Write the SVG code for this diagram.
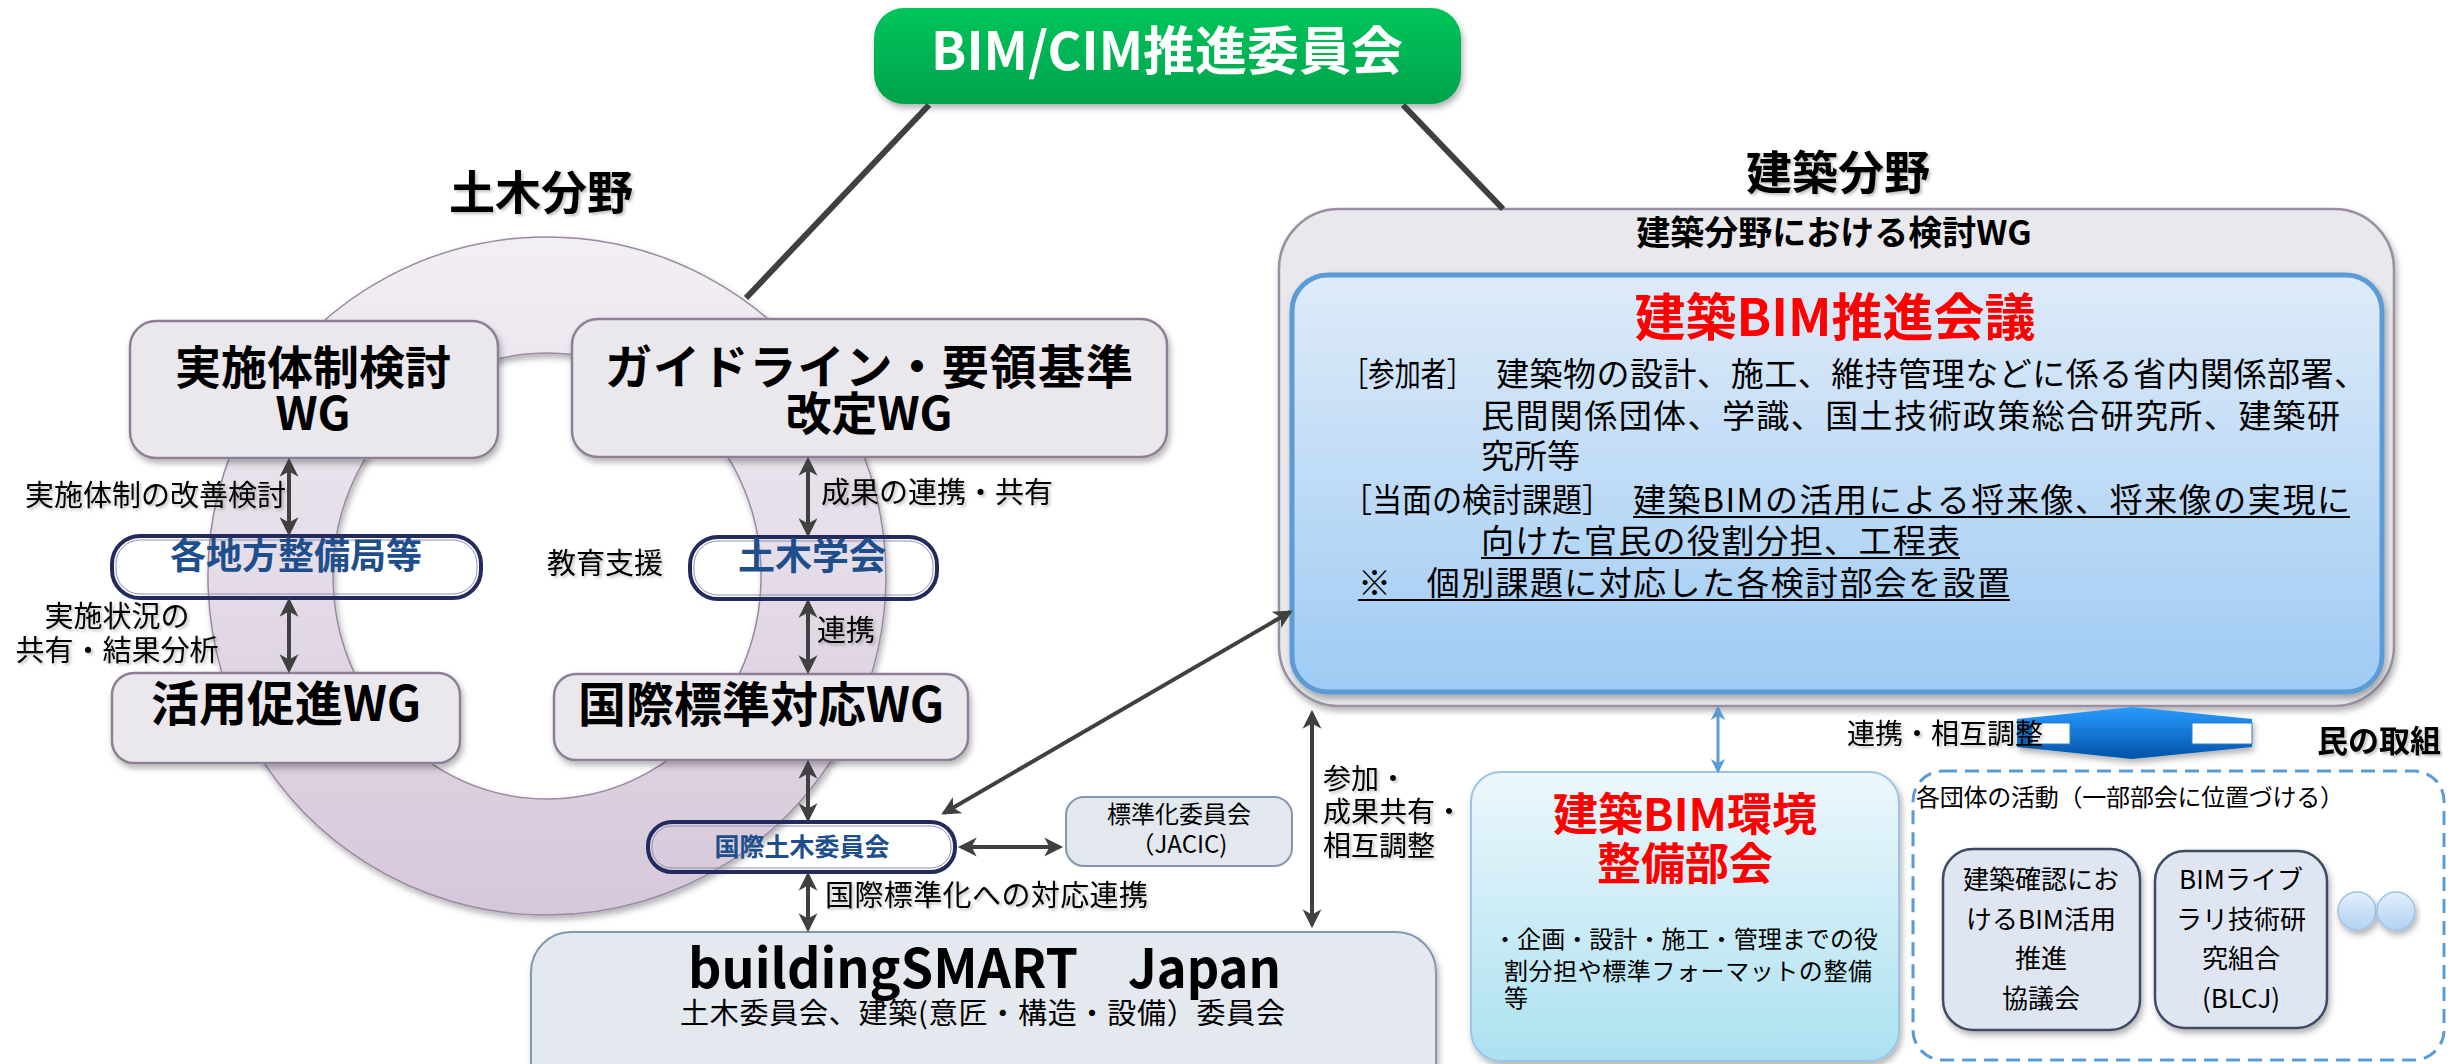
<svg xmlns="http://www.w3.org/2000/svg" width="2458" height="1064" viewBox="0 0 2458 1064">
<style>
text{font-family:"Noto Sans CJK JP","Noto Sans",sans-serif;fill:#000}
.b{font-weight:bold}
.wg{fill:#EAE8EC;stroke:#8E7F96;stroke-width:2.5}
.nv{fill:none;stroke:#232B5E;stroke-width:4}
.nvt{fill:#1F4E8C;font-weight:bold}
.lbl{font-size:29px}
.ar{stroke:#404040;stroke-width:4;fill:none;marker-start:url(#ah);marker-end:url(#ah)}
.org{fill:#DFE6F1;stroke:#3F4A66;stroke-width:2.5}
.red{fill:#FF0000;font-weight:bold}
</style>
<defs>
<marker id="ah" viewBox="0 0 20 20" refX="16" refY="10" markerWidth="21" markerHeight="21" markerUnits="userSpaceOnUse" orient="auto-start-reverse"><path d="M1,1 L19,10 L1,19 L6,10 Z" fill="#404040"/></marker>
<marker id="ahb" viewBox="0 0 20 20" refX="16" refY="10" markerWidth="16" markerHeight="16" markerUnits="userSpaceOnUse" orient="auto-start-reverse"><path d="M1,1 L19,10 L1,19 L6,10 Z" fill="#5B9BD5"/></marker>
<linearGradient id="gGreen" x1="0" y1="0" x2="0" y2="1"><stop offset="0" stop-color="#00C55A"/><stop offset="1" stop-color="#00A24C"/></linearGradient>
<linearGradient id="gRing" x1="0" y1="0" x2="0" y2="1"><stop offset="0" stop-color="#F2EFF4"/><stop offset="1" stop-color="#D6C8DA"/></linearGradient>
<linearGradient id="gBlue" x1="0" y1="0" x2="0" y2="1"><stop offset="0" stop-color="#DEEBF8"/><stop offset="1" stop-color="#9FCBF4"/></linearGradient>
<linearGradient id="gCyan" x1="0" y1="0" x2="0" y2="1"><stop offset="0" stop-color="#EDF7FC"/><stop offset="1" stop-color="#ABE1F0"/></linearGradient>
<linearGradient id="gArrow" x1="0" y1="0" x2="0" y2="1"><stop offset="0" stop-color="#2A9BFF"/><stop offset="1" stop-color="#0052A8"/></linearGradient>
<linearGradient id="gDot" x1="0" y1="0" x2="0" y2="1"><stop offset="0" stop-color="#E3EFFB"/><stop offset="1" stop-color="#B3D2F2"/></linearGradient>
<filter id="sh" x="-10%" y="-10%" width="125%" height="135%"><feDropShadow dx="2" dy="4" stdDeviation="3" flood-color="#000" flood-opacity="0.3"/></filter>
<filter id="ts" x="-5%" y="-20%" width="115%" height="160%"><feDropShadow dx="2" dy="2" stdDeviation="1.5" flood-color="#000" flood-opacity="0.25"/></filter>
</defs>
<rect width="2458" height="1064" fill="#FFFFFF"/>

<g id="ring">
<path d="M547,237 A339,339 0 1 1 546.9,237 Z M547,353 A214,223 0 1 0 547.1,353 Z" fill="url(#gRing)" fill-rule="evenodd" stroke="#9A8AA3" stroke-width="1.5" filter="url(#sh)"/>
</g>

<g id="field-civil-title"><text x="541" y="209" text-anchor="middle" class="b" font-size="46" filter="url(#ts)">土木分野</text></g>
<g id="field-arch-title"><text x="1838" y="189" text-anchor="middle" class="b" font-size="46" filter="url(#ts)">建築分野</text></g>

<g id="bimcim">
<rect x="874" y="8" width="587" height="96" rx="30" fill="url(#gGreen)" filter="url(#sh)"/>
<text x="1167" y="70" text-anchor="middle" class="b" font-size="52" fill="#FFFFFF" style="fill:#FFFFFF">BIM/CIM推進委員会</text>
</g>

<g id="wg-jisshi">
<rect class="wg" x="130" y="321" width="368" height="137" rx="26" filter="url(#sh)"/>
<text x="313" y="384" text-anchor="middle" class="b" font-size="46">実施体制検討</text>
<text x="313" y="430" text-anchor="middle" class="b" font-size="46">WG</text>
</g>

<g id="wg-guideline">
<rect class="wg" x="572" y="319" width="595" height="138" rx="26" filter="url(#sh)"/>
<text x="869" y="384" text-anchor="middle" class="b" font-size="47" textLength="528">ガイドライン・要領基準</text>
<text x="869" y="430" text-anchor="middle" class="b" font-size="46">改定WG</text>
</g>

<g id="chiho">
<rect class="nv" x="112" y="536" width="369" height="62" rx="28"/>
<rect x="116" y="540" width="361" height="54" rx="24" fill="none" stroke="#8C91B5" stroke-width="1"/>
<text x="296" y="569" text-anchor="middle" class="nvt" font-size="36" style="fill:#1F4E8C">各地方整備局等</text>
</g>

<g id="doboku-gakkai">
<rect class="nv" x="690" y="537" width="247" height="62" rx="28"/>
<rect x="694" y="541" width="239" height="54" rx="24" fill="none" stroke="#8C91B5" stroke-width="1"/>
<text x="812" y="570" text-anchor="middle" class="nvt" font-size="37" style="fill:#1F4E8C">土木学会</text>
</g>

<g id="wg-katsuyo">
<rect class="wg" x="112" y="673" width="348" height="90" rx="22" filter="url(#sh)"/>
<text x="286" y="721" text-anchor="middle" class="b" font-size="48">活用促進WG</text>
</g>

<g id="wg-kokusai">
<rect class="wg" x="554" y="674" width="414" height="86" rx="22" filter="url(#sh)"/>
<text x="761" y="722" text-anchor="middle" class="b" font-size="48">国際標準対応WG</text>
</g>

<g id="kokusai-doboku">
<rect class="nv" x="648" y="822" width="307" height="50" rx="24"/>
<rect x="652" y="826" width="299" height="42" rx="20" fill="none" stroke="#8C91B5" stroke-width="1"/>
<text x="802" y="856" text-anchor="middle" class="nvt" font-size="25" style="fill:#1F4E8C">国際土木委員会</text>
</g>

<g id="jacic">
<rect x="1066" y="797" width="226" height="69" rx="18" fill="#E3E7EE" stroke="#8497B0" stroke-width="2"/>
<text x="1179" y="823" text-anchor="middle" font-size="24">標準化委員会</text>
<text x="1179" y="853" text-anchor="middle" font-size="24">（JACIC)</text>
</g>

<g id="buildingsmart">
<rect x="531" y="932" width="905" height="170" rx="40" fill="#E4E8EF" stroke="#8497B0" stroke-width="2" filter="url(#sh)"/>
<text x="688" y="988" class="b" font-size="54" textLength="390" lengthAdjust="spacingAndGlyphs">buildingSMART</text>
<text x="1128" y="988" class="b" font-size="54" textLength="153" lengthAdjust="spacingAndGlyphs">Japan</text>
<text x="680" y="1024" font-size="29" textLength="605">土木委員会、建築(意匠・構造・設備）委員会</text>
</g>

<g id="arch-wg">
<rect x="1279" y="209" width="1115" height="497" rx="60" fill="#E9E8EC" stroke="#9B8FA3" stroke-width="2.5" filter="url(#sh)"/>
<text x="1834" y="245" text-anchor="middle" class="b" font-size="34">建築分野における検討WG</text>
</g>

<g id="arch-bim-kaigi">
<rect x="1292" y="275" width="1090" height="417" rx="36" fill="url(#gBlue)" stroke="#5B9BD5" stroke-width="5" filter="url(#sh)"/>
<text x="1835" y="336" text-anchor="middle" class="red" font-size="51" style="fill:#FF0000">建築BIM推進会議</text>
<g font-size="33">
<text x="1342" y="386" textLength="131" lengthAdjust="spacingAndGlyphs">［参加者］</text>
<text x="1496" y="386" textLength="871">建築物の設計、施工、維持管理などに係る省内関係部署、</text>
<text x="1481" y="428" textLength="859">民間関係団体、学識、国土技術政策総合研究所、建築研</text>
<text x="1481" y="468">究所等</text>
<text x="1342" y="512" textLength="270" lengthAdjust="spacingAndGlyphs">［当面の検討課題］</text>
<text x="1633" y="512" textLength="717">建築BIMの活用による将来像、将来像の実現に</text>
<text x="1481" y="553" textLength="479">向けた官民の役割分担、工程表</text>
<text x="1358" y="595" textLength="652">※　個別課題に対応した各検討部会を設置</text>
</g>
<g stroke="#000" stroke-width="2">
<line x1="1633" y1="517" x2="2350" y2="517"/>
<line x1="1481" y1="558" x2="1960" y2="558"/>
<line x1="1358" y1="600" x2="2010" y2="600"/>
</g>
</g>

<g id="arch-bim-env">
<rect x="1471" y="772" width="428" height="289" rx="30" fill="url(#gCyan)" stroke="#9DC3E6" stroke-width="2" filter="url(#sh)"/>
<text x="1685" y="831" text-anchor="middle" class="red" font-size="45" style="fill:#FF0000">建築BIM環境</text>
<text x="1685" y="880" text-anchor="middle" class="red" font-size="44" style="fill:#FF0000">整備部会</text>
<text x="1493" y="948" font-size="24" textLength="385">・企画・設計・施工・管理までの役</text>
<text x="1504" y="980" font-size="24" textLength="368">割分担や標準フォーマットの整備</text>
<text x="1504" y="1007" font-size="24">等</text>
</g>

<g id="min-torikumi-title"><text x="2317" y="752" class="b" font-size="31" filter="url(#ts)">民の取組</text></g>

<g id="private-activities">
<rect x="1913" y="771" width="531" height="289" rx="30" fill="none" stroke="#5B9BD5" stroke-width="3" stroke-dasharray="14 8"/>
<text x="1916" y="806" font-size="24" textLength="428">各団体の活動（一部部会に位置づける）</text>
</g>

<g id="kakunin-kyogikai">
<rect class="org" x="1943" y="849" width="197" height="181" rx="30" filter="url(#sh)"/>
<g font-size="26" text-anchor="middle">
<text x="2041" y="889">建築確認にお</text>
<text x="2041" y="929">けるBIM活用</text>
<text x="2041" y="968">推進</text>
<text x="2041" y="1008">協議会</text>
</g>
</g>

<g id="blcj">
<rect class="org" x="2155" y="851" width="172" height="177" rx="30" filter="url(#sh)"/>
<g font-size="26" text-anchor="middle">
<text x="2241" y="889">BIMライブ</text>
<text x="2241" y="929">ラリ技術研</text>
<text x="2241" y="968">究組合</text>
<text x="2241" y="1008">(BLCJ)</text>
</g>
</g>

<g id="more-dots">
<ellipse cx="2357" cy="911" rx="19" ry="19" fill="url(#gDot)" stroke="#9DC3E6" stroke-width="1.5" filter="url(#sh)"/>
<ellipse cx="2396" cy="911" rx="19" ry="19" fill="url(#gDot)" stroke="#9DC3E6" stroke-width="1.5" filter="url(#sh)"/>
</g>

<g id="connectors">
<line x1="929" y1="105" x2="746" y2="298" stroke="#404040" stroke-width="6"/>
<line x1="1403" y1="105" x2="1503" y2="209" stroke="#404040" stroke-width="6"/>
<line class="ar" x1="289" y1="461" x2="289" y2="533"/>
<line class="ar" x1="289" y1="601" x2="289" y2="670"/>
<line class="ar" x1="808" y1="460" x2="808" y2="534"/>
<line class="ar" x1="808" y1="602" x2="808" y2="671"/>
<line class="ar" x1="808" y1="763" x2="808" y2="819"/>
<line class="ar" x1="808" y1="875" x2="808" y2="929"/>
<line class="ar" x1="944" y1="813" x2="1290" y2="612"/>
<line class="ar" x1="961" y1="847" x2="1060" y2="847" stroke-width="6"/>
<line class="ar" x1="1312" y1="713" x2="1312" y2="925"/>
<line x1="1718" y1="708" x2="1718" y2="771" stroke="#5B9BD5" stroke-width="3" marker-start="url(#ahb)" marker-end="url(#ahb)"/>
<g class="lbl" filter="url(#ts)">
<text x="286" y="506" text-anchor="end">実施体制の改善検討</text>
<text x="117" y="627" text-anchor="middle">実施状況の</text>
<text x="117" y="661" text-anchor="middle">共有・結果分析</text>
<text x="821" y="503">成果の連携・共有</text>
<text x="547" y="574">教育支援</text>
<text x="817" y="641">連携</text>
<text x="825" y="906" textLength="323">国際標準化への対応連携</text>
<text x="1323" y="789" font-size="28">参加・</text>
<text x="1323" y="822" font-size="28">成果共有・</text>
<text x="1323" y="856" font-size="28">相互調整</text>
</g>
<g id="block-arrow">
<polygon points="2017,719 2132,707 2252,719 2252,747 2132,759 2017,747" fill="url(#gArrow)" filter="url(#sh)"/>
<rect x="2032" y="723" width="38" height="21" fill="#FFFFFF" stroke="#2A7FD0" stroke-width="1"/>
<rect x="2192" y="723" width="60" height="21" fill="#FFFFFF" stroke="#2A7FD0" stroke-width="1"/>
</g>
<text x="1847" y="744" font-size="28" filter="url(#ts)">連携・相互調整</text>
</g>
</svg>
